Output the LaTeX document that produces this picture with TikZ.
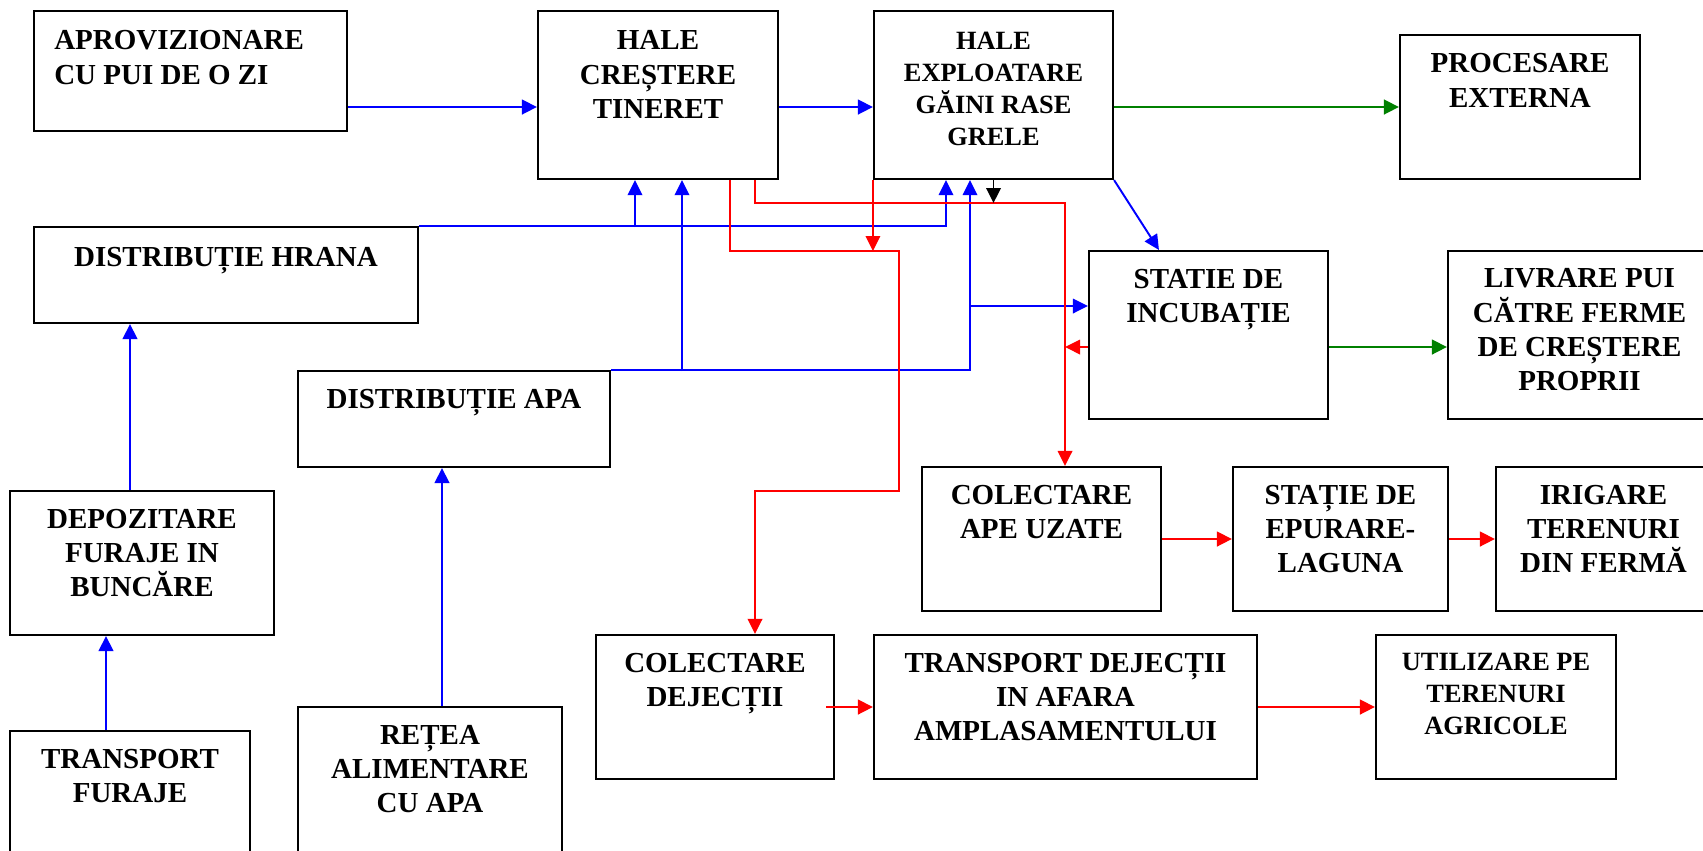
\documentclass[tikz,border=0pt]{standalone}
\usepackage{fontspec}
\setmainfont{Liberation Serif}
\usepackage{tikz}
\usetikzlibrary{arrows.meta, positioning, fit}
\definecolor{feedblue}{RGB}{0, 0, 255}
\definecolor{wastered}{RGB}{255, 0, 0}
\definecolor{outgreen}{RGB}{0, 128, 0}

\begin{document}
\begin{tikzpicture}[x=0.02cm, y=-0.02cm,
    >={Triangle[length=0.3cm, width=0.29cm]},
    box/.style={draw, line width=1.2pt, inner sep=0pt},
    txt/.style={font=\bfseries\fontsize{16.5}{19.4}\selectfont, align=center, inner sep=0pt},
    smalltxt/.style={font=\bfseries\fontsize{15}{18.2}\selectfont, align=center, inner sep=0pt},
    flow/.style={line width=1.6pt, ->},
    route/.style={line width=1.1pt}]
    \useasboundingbox (0,0) rectangle (1703,850);
    \clip (0,0) rectangle (1703,850);

    % Top row: chicks -> young birds -> breeders -> processing
    \node[box, fit={(34,11) (347,131)}] (aprov) {};
    \node[txt, align=left, below right=0.41cm and 0.42cm of aprov.north west] (aprov-t) {APROVIZIONARE\\CU PUI DE O ZI};
    \node[box, fit={(538,11) (778,179)}] (tineret) {};
    \node[txt, below=0.41cm of tineret.north] (tineret-t) {HALE\\CREȘTERE\\TINERET};
    \node[box, fit={(874,11) (1113,179)}] (exploat) {};
    \node[smalltxt, below=0.43cm of exploat.north] (exploat-t) {HALE\\EXPLOATARE\\GĂINI RASE\\GRELE};
    \node[box, fit={(1400,35) (1640,179)}] (proces) {};
    \node[txt, below=0.39cm of proces.north] (proces-t) {PROCESARE\\EXTERNA};

    % Feed and water supply
    \node[box, fit={(34,227) (418,323)}] (hrana) {};
    \node[txt, below=0.41cm of hrana.north] (hrana-t) {DISTRIBUȚIE HRANA};
    \node[box, fit={(298,371) (610,467)}] (apa) {};
    \node[txt, below=0.38cm of apa.north] (apa-t) {DISTRIBUȚIE APA};
    \node[box, fit={(10,491) (274,635)}] (depozit) {};
    \node[txt, below=0.38cm of depozit.north] (depozit-t) {DEPOZITARE\\FURAJE IN\\BUNCĂRE};
    \node[box, fit={(10,731) (250,870)}] (furaje) {};
    \node[txt, below=0.38cm of furaje.north] (furaje-t) {TRANSPORT\\FURAJE};
    \node[box, fit={(298,707) (562,870)}] (retea) {};
    \node[txt, below=0.38cm of retea.north] (retea-t) {REȚEA\\ALIMENTARE\\CU APA};

    % Incubation
    \node[box, fit={(1089,251) (1328,419)}] (incub) {};
    \node[txt, below=0.37cm of incub.north] (incub-t) {STATIE DE\\INCUBAȚIE};
    \node[box, fit={(1448,251) (1711,419)}] (livrare) {};
    \node[txt, below=0.37cm of livrare.north] (livrare-t) {LIVRARE PUI\\CĂTRE FERME\\DE CREȘTERE\\PROPRII};

    % Waste water and manure
    \node[box, fit={(922,467) (1161,611)}] (apeuz) {};
    \node[txt, below=0.38cm of apeuz.north] (apeuz-t) {COLECTARE\\APE UZATE};
    \node[box, fit={(1233,467) (1448,611)}] (epurare) {};
    \node[txt, below=0.38cm of epurare.north] (epurare-t) {STAȚIE DE\\EPURARE-\\LAGUNA};
    \node[box, fit={(1496,467) (1711,611)}] (irigare) {};
    \node[txt, below=0.38cm of irigare.north] (irigare-t) {IRIGARE\\TERENURI\\DIN FERMĂ};
    \node[box, fit={(596,635) (834,779)}] (dejectii) {};
    \node[txt, below=0.38cm of dejectii.north] (dejectii-t) {COLECTARE\\DEJECȚII};
    \node[box, fit={(874,635) (1257,779)}] (transdej) {};
    \node[txt, below=0.38cm of transdej.north] (transdej-t) {TRANSPORT DEJECȚII\\IN AFARA\\AMPLASAMENTULUI};
    \node[box, fit={(1376,635) (1616,779)}] (utiliz) {};
    \node[smalltxt, below=0.38cm of utiliz.north] (utiliz-t) {UTILIZARE PE\\TERENURI\\AGRICOLE};

    % rows and columns of the pipes
    \coordinate (row) at (0,107);
    \coordinate (back) at (0,347);
    \coordinate (feedA) at (635,227);
    \coordinate (feedB) at (946,227);
    \coordinate (feedC) at (130,0);
    \coordinate (feedD) at (106,0);
    \coordinate (waterA) at (682,371);
    \coordinate (waterB) at (970,371);
    \coordinate (waterC) at (442,0);
    \coordinate (toincub) at (970,306);
    \coordinate (redA) at (1065,203);
    \coordinate (redB) at (899,251);
    \coordinate (redC) at (755,491);
    \coordinate (redD) at (730,0);

    % Main line
    \draw[flow, feedblue] (aprov.east |- row) -- (tineret.west |- row);
    \draw[flow, feedblue] (tineret.east |- row) -- (exploat.west |- row);
    \draw[flow, outgreen] (exploat.east |- row) -- (proces.west |- row);
    \draw[route, feedblue, ->] (exploat.south east) -- ([xshift=1.42cm]incub.north west);
    \draw[flow, outgreen] (back -| incub.east) -- (back -| livrare.west);

    % Feed
    \draw[route, feedblue, ->] (hrana.north east) -| (exploat.south -| feedB);
    \draw[route, feedblue, ->] (feedA) -- (tineret.south -| feedA);
    \draw[flow, feedblue] (depozit.north -| feedC) -- (hrana.south -| feedC);
    \draw[flow, feedblue] (furaje.north -| feedD) -- (depozit.south -| feedD);

    % Water
    \draw[route, feedblue, ->] (apa.north east) -| (exploat.south -| waterB);
    \draw[route, feedblue, ->] (waterA) -- (tineret.south -| waterA);
    \draw[route, feedblue, ->] (toincub) -- (toincub -| incub.west);
    \draw[flow, feedblue] (retea.north -| waterC) -- (apa.south -| waterC);

    % Waste
    \draw[route, wastered, ->] (tineret.south -| redC) |- (redA) -- (apeuz.north -| redA);
    \draw[route, wastered, ->] (tineret.south -| redD) |- (redB) |- (redC) -- (dejectii.north -| redC);
    \draw[route, wastered, ->] (exploat.south west) -- (redB -| exploat.south west);
    \draw[route, wastered, ->] (back -| incub.west) -- (back -| redA);
    \draw[route, ->] (exploat.south) -- (exploat.south |- redA);
    \draw[flow, wastered] (apeuz.east) -- (epurare.west);
    \draw[flow, wastered] (epurare.east) -- (irigare.west);
    \draw[flow, wastered] ([xshift=-0.18cm]dejectii.east) -- (transdej.west);
    \draw[flow, wastered] (transdej.east) -- (utiliz.west);
\end{tikzpicture}
\end{document}
